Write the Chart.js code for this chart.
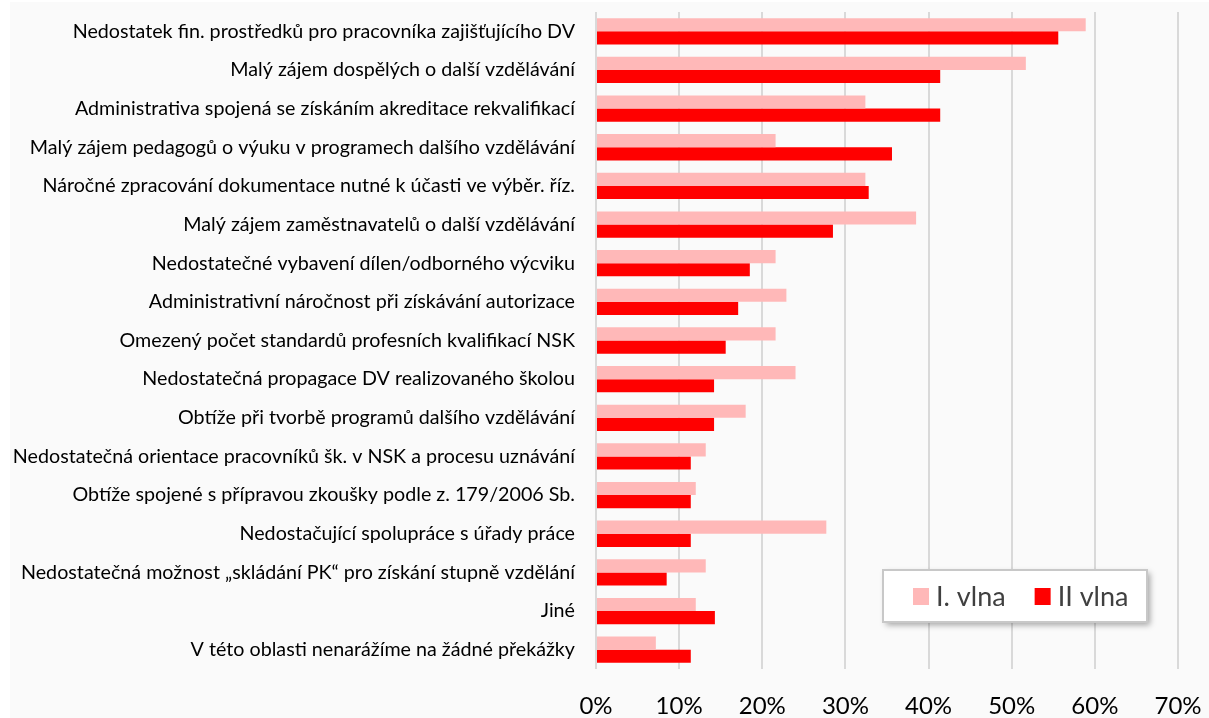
<!DOCTYPE html>
<html>
<head>
<meta charset="utf-8">
<script src="https://cdn.jsdelivr.net/npm/chart.js@4"></script>
<style>
  html, body { margin: 0; padding: 0; background: #ffffff; }
  #wrap { width: 1209px; height: 718px; position: relative; }
</style>
</head>
<body>
<div id="wrap"><canvas id="barChart"></canvas></div>
<script>
const categories = [
    "Nedostatek fin. prostředků pro pracovníka zajišťujícího DV",
    "Malý zájem dospělých o další vzdělávání",
    "Administrativa spojená se získáním akreditace rekvalifikací",
    "Malý zájem pedagogů o výuku v programech dalšího vzdělávání",
    "Náročné zpracování dokumentace nutné k účasti ve výběr. říz.",
    "Malý zájem zaměstnavatelů o další vzdělávání",
    "Nedostatečné vybavení dílen/odborného výcviku",
    "Administrativní náročnost při získávání autorizace",
    "Omezený počet standardů profesních kvalifikací NSK",
    "Nedostatečná propagace DV realizovaného školou",
    "Obtíže při tvorbě programů dalšího vzdělávání",
    "Nedostatečná orientace pracovníků šk. v NSK a procesu uznávání",
    "Obtíže spojené s přípravou zkoušky podle z. 179/2006 Sb.",
    "Nedostačující spolupráce s úřady práce",
    "Nedostatečná možnost „skládání PK“ pro získání stupně vzdělání",
    "Jiné",
    "V této oblasti nenarážíme na žádné překážky"
];

// share of schools (0..1)
const firstWave = [0.589, 0.517, 0.324, 0.216, 0.324, 0.385, 0.216, 0.229, 0.216, 0.240, 0.180, 0.132, 0.120, 0.277, 0.132, 0.120, 0.072];
const secondWave = [0.556, 0.414, 0.414, 0.356, 0.328, 0.285, 0.185, 0.171, 0.156, 0.142, 0.142, 0.114, 0.114, 0.114, 0.085, 0.143, 0.114];

const seriesNames = ["I. vlna", "II vlna"];
const seriesColors = ["#ffb8b8", "#ff0000"];

// background + custom legend box inside the plot
const backgroundPlugin = {
    id: "background",
    beforeDraw(chart) {
        const ctx = chart.ctx;
        ctx.save();
        ctx.fillStyle = "#fafafa";
        ctx.fillRect(10, 2, chart.width - 10, chart.height - 2);
        ctx.restore();
    }
};

const boxLegendPlugin = {
    id: "boxLegend",
    afterDraw(chart) {
        const ctx = chart.ctx;
        const x = 883, y = 570, w = 264, h = 52;
        ctx.save();
        ctx.shadowColor = "rgba(0,0,0,0.35)";
        ctx.shadowBlur = 6;
        ctx.shadowOffsetX = 3;
        ctx.shadowOffsetY = 3;
        ctx.fillStyle = "#ffffff";
        ctx.fillRect(x, y, w, h);
        ctx.shadowColor = "transparent";
        ctx.strokeStyle = "#c8c8c8";
        ctx.lineWidth = 2;
        ctx.strokeRect(x, y, w, h);

        ctx.font = "27px Lato";
        ctx.textBaseline = "middle";
        let cx = x + 30;
        chart.data.datasets.forEach(function (ds) {
            ctx.fillStyle = ds.backgroundColor;
            ctx.fillRect(cx, y + 18, 16, 17);
            ctx.fillStyle = "#404040";
            ctx.fillText(ds.label, cx + 23, y + 27);
            cx += 23 + ctx.measureText(ds.label).width + 29;
        });
        ctx.restore();
    }
};

new Chart(document.getElementById("barChart"), {
    type: "bar",
    data: {
        labels: categories,
        datasets: [{
            label: seriesNames[0],
            data: firstWave,
            backgroundColor: seriesColors[0]
        }, {
            label: seriesNames[1],
            data: secondWave,
            backgroundColor: seriesColors[1]
        }]
    },
    options: {
        indexAxis: "y",
        responsive: true,
        maintainAspectRatio: false,
        animation: false,
        barPercentage: 1.0,
        categoryPercentage: 0.68,
        layout: {
            padding: { top: 12, right: 31, bottom: 0, left: 0 }
        },
        plugins: {
            legend: { display: false },
            tooltip: { enabled: false }
        },
        scales: {
            x: {
                min: 0,
                max: 0.7,
                ticks: {
                    stepSize: 0.1,
                    padding: 25,
                    color: "#000000",
                    font: { family: "Lato", size: 24, lineHeight: 1.0 },
                    callback: function (v) { return Math.round(v * 100) + "%"; }
                },
                grid: {
                    color: "#d9d9d9",
                    lineWidth: 2,
                    drawTicks: false
                },
                border: { display: false },
                afterFit: function (scale) {
                    scale.height = 49;
                    scale.paddingLeft = 0;
                    scale.paddingRight = 0;
                }
            },
            y: {
                ticks: {
                    padding: 21,
                    color: "#000000",
                    font: { family: "Lato", size: 19.7 }
                },
                grid: { display: false, drawTicks: false },
                border: { display: false },
                afterFit: function (scale) {
                    scale.width = 596;
                    scale.paddingTop = 0;
                    scale.paddingBottom = 0;
                }
            }
        }
    },
    plugins: [backgroundPlugin, boxLegendPlugin]
});
</script>
</body>
</html>
